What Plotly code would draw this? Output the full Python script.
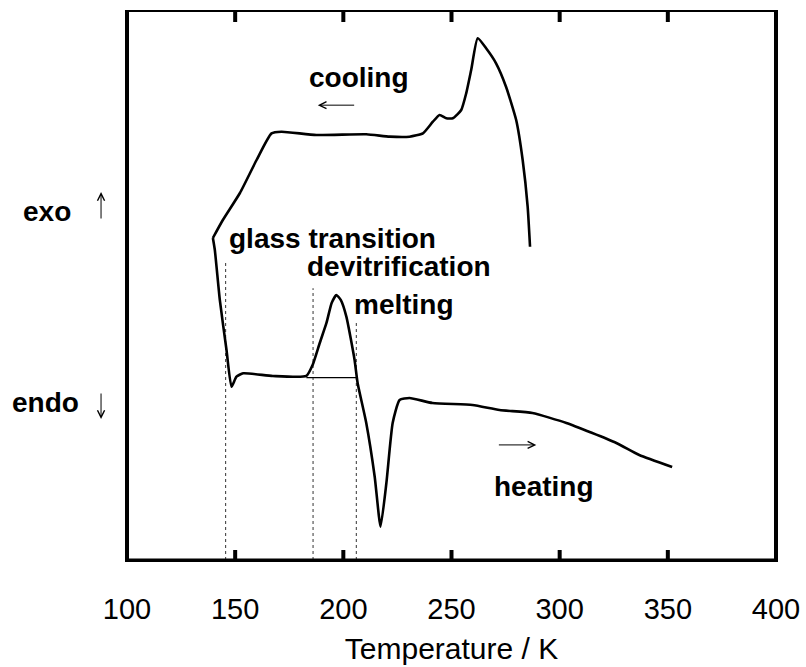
import plotly.graph_objects as go

# DSC trace recorded on cooling (listed in order of increasing temperature)
cool_T = [139.7, 144.3, 152.2, 159.9, 166.8, 171.4, 187.5, 210.6, 221.4, 230.6,
          236.8, 241.4, 244.5, 247.6, 250.6, 254.5, 256.8, 259.1, 262.1, 266.0,
          270.6, 275.2, 279.9, 282.9, 285.2, 286.3]
cool_Q = [58.76, 62.04, 66.97, 72.99, 77.86, 78.16, 77.55, 77.68, 77.25, 77.24,
          77.86, 79.98, 81.20, 80.60, 80.60, 82.12, 85.16, 89.42, 95.20, 93.38,
          90.64, 86.37, 80.29, 72.99, 64.47, 57.17]

# DSC trace recorded on subsequent heating
heat_T = [139.7, 140.6, 142.9, 146.0, 148.3, 150.6, 153.7, 167.4, 182.9, 185.8,
          189.1, 192.2, 194.6, 196.8, 198.8, 201.4, 205.2, 206.6, 210.6, 214.5,
          217.2, 219.9, 222.8, 226.0, 230.6, 241.2, 259.7, 272.2, 287.4, 303.1,
          326.2, 336.8, 352.0]
heat_Q = [58.76, 56.57, 47.45, 38.32, 31.62, 33.45, 34.07, 33.58, 33.58, 35.58,
          39.60, 43.25, 46.90, 48.36, 47.45, 44.40, 36.50, 32.30, 25.00, 15.20,
          6.08, 14.05, 25.00, 29.20, 29.56, 28.65, 28.28, 27.37, 26.82, 25.00,
          21.35, 19.16, 16.97]

# baseline drawn under the devitrification exotherm
base_T = [182.9, 206.0]
base_Q = [33.27, 33.27]

# transition temperatures (dotted markers) and the height each marker reaches
event_T = [145.6, 186.0, 206.0]
event_top = [54.7, 49.6, 43.5]

x_ticks = [100, 150, 200, 250, 300, 350, 400]

FONT = "Liberation Sans, Arial, sans-serif"
X0, X1 = 100, 400
Y0, Y1 = 0, 100

fig = go.Figure()

for T, top in zip(event_T, event_top):
    fig.add_trace(go.Scatter(x=[T, T], y=[Y0, top], mode="lines",
                             line=dict(color="#333333", width=1, dash="dot"),
                             hoverinfo="skip", showlegend=False))

fig.add_trace(go.Scatter(x=base_T, y=base_Q, mode="lines",
                         line=dict(color="black", width=1.2),
                         showlegend=False))
fig.add_trace(go.Scatter(x=cool_T, y=cool_Q, mode="lines", name="cooling",
                         line=dict(color="black", width=2.6, shape="spline",
                                   smoothing=0.5),
                         showlegend=False))
fig.add_trace(go.Scatter(x=heat_T, y=heat_Q, mode="lines", name="heating",
                         line=dict(color="black", width=2.6, shape="spline",
                                   smoothing=0.5),
                         showlegend=False))

label_font = dict(family=FONT, size=28, color="black")
labels = [
    ("cooling", 207.1, 88.0, "center"),
    ("glass transition", 146.2, 58.6, "left"),
    ("devitrification", 182.2, 53.6, "left"),
    ("melting", 203.8, 46.6, "left"),
    ("heating", 268.9, 13.5, "left"),
]
for txt, x, y, xa in labels:
    fig.add_annotation(x=x, y=y, text="<b>%s</b>" % txt, showarrow=False,
                       xanchor=xa, yanchor="middle", font=label_font)

# direction arrows for the two scans
fig.add_annotation(x=188.2, y=83.0, ax=205.7, ay=83.0, axref="x", ayref="y",
                   xref="x", yref="y", text="", showarrow=True,
                   arrowhead=5, arrowsize=1.4, arrowwidth=1, arrowcolor="black")
fig.add_annotation(x=289.2, y=21.0, ax=271.2, ay=21.0, axref="x", ayref="y",
                   xref="x", yref="y", text="", showarrow=True,
                   arrowhead=5, arrowsize=1.4, arrowwidth=1, arrowcolor="black")

# exo / endo labels on the left of the frame
W, H = 650.0, 548.0
fig.add_annotation(x=(73 - 127) / W, y=(560 - 211) / H, xref="paper", yref="paper",
                   text="<b>exo</b>", showarrow=False, xanchor="right",
                   yanchor="middle", font=label_font)
fig.add_annotation(x=(81 - 127) / W, y=(560 - 403) / H, xref="paper", yref="paper",
                   text="<b>endo</b>", showarrow=False, xanchor="right",
                   yanchor="middle", font=label_font)
fig.add_annotation(x=(101 - 127) / W, y=(560 - 192) / H, xref="paper", yref="paper",
                   ax=0, ay=28, text="", showarrow=True, arrowhead=5,
                   arrowsize=1.4, arrowwidth=1, arrowcolor="black")
fig.add_annotation(x=(101 - 127) / W, y=(560 - 419) / H, xref="paper", yref="paper",
                   ax=0, ay=-27, text="", showarrow=True, arrowhead=5,
                   arrowsize=1.4, arrowwidth=1, arrowcolor="black")

# heavier frame on left, right and bottom
for x0, y0, x1, y1, w in [(0, 0, 0, 1, 4), (1, 0, 1, 1, 4), (0, 0, 1, 0, 3)]:
    fig.add_shape(type="line", xref="paper", yref="paper", x0=x0, y0=y0,
                  x1=x1, y1=y1, line=dict(color="black", width=w))

# inward tick marks on the bottom and top edges at each labelled temperature
TICK_LEN = 10
for t in x_ticks[1:-1]:
    for edge, sign in ((0, 1), (1, -1)):
        fig.add_shape(type="line", xref="x", yref="paper", ysizemode="pixel",
                      yanchor=edge, x0=t, x1=t, y0=0, y1=sign * TICK_LEN,
                      line=dict(color="black", width=4))

fig.update_layout(
    xaxis=dict(range=[X0, X1], tickvals=x_ticks, ticks="", showline=True,
               linewidth=2, linecolor="black", mirror=True, showgrid=False,
               zeroline=False, ticklabelstandoff=22, automargin=False,
               tickfont=dict(family=FONT, size=29, color="black"),
               title=dict(text="Temperature / K", standoff=14,
                          font=dict(family=FONT, size=30, color="black"))),
    yaxis=dict(range=[Y0, Y1], showticklabels=False, ticks="", showline=True,
               linewidth=2, linecolor="black", mirror=True, showgrid=False,
               zeroline=False, automargin=False),
    width=806, height=667, plot_bgcolor="white", paper_bgcolor="white",
    margin=dict(l=127, r=30, t=12, b=107, pad=0),
)

fig.write_html("out.html")
